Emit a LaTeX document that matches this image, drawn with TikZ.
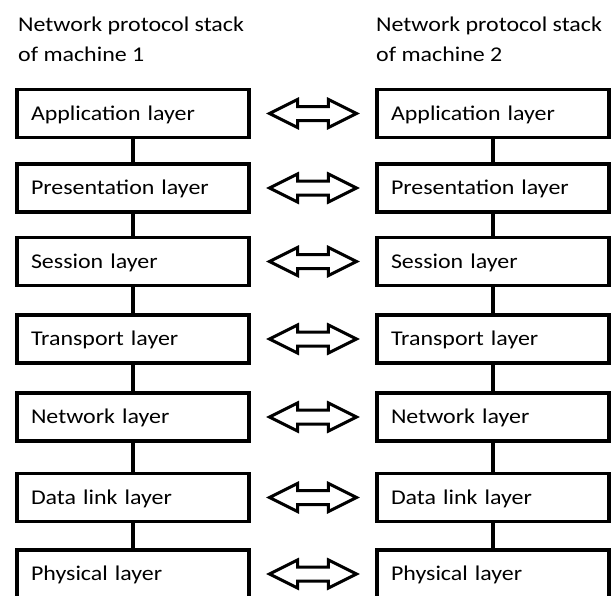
\documentclass[tikz,border=0pt]{standalone}
\usepackage{fontspec}
\setmainfont[FakeStretch=1.14]{Carlito}
\usetikzlibrary{shapes.arrows,calc}
\begin{document}
\begin{tikzpicture}[x=1pt,y=-1pt,
  layerbox/.style={draw, line width=3.2pt, minimum height=48pt, text width=204pt, inner xsep=14pt, inner ysep=0pt, align=left, text height=13.5pt, text depth=0pt, font=\fontsize{21pt}{25pt}\selectfont, fill=white},
  titletext/.style={anchor=north west, inner sep=0pt, align=left, font=\fontsize{21pt}{30pt}\selectfont},
  link/.style={line width=3.2pt},
  dblarrow/.style={double arrow, draw, line width=3pt, fill=white, inner xsep=0pt, inner ysep=5.5pt, double arrow head extend=7pt, double arrow tip angle=53, minimum height=87pt},
]
\path[use as bounding box, fill=white] (0,0) rectangle (611,595);

\node[titletext] (T1) at (18,17) {Network protocol stack\\of machine 1};
\node[titletext] (T2) at (376,17) {Network protocol stack\\of machine 2};

\foreach \n/\y/\t in {1/113.5/Application layer, 2/188/Presentation layer, 3/261.5/Session layer, 4/339/Transport layer, 5/417/Network layer, 6/497.5/Data link layer, 7/574/Physical layer}{
  \node[layerbox] (L\n) at (133,\y) {\t};
  \node[layerbox] (R\n) at (493,\y) {\t};
  \node[dblarrow] (A\n) at ($(L\n.east)!0.5!(R\n.west)$) {};
}
\foreach \a/\b in {1/2,2/3,3/4,4/5,5/6,6/7}{
  \draw[link] (L\a.south) -- (L\b.north);
  \draw[link] (R\a.south) -- (R\b.north);
}
\end{tikzpicture}
\end{document}
